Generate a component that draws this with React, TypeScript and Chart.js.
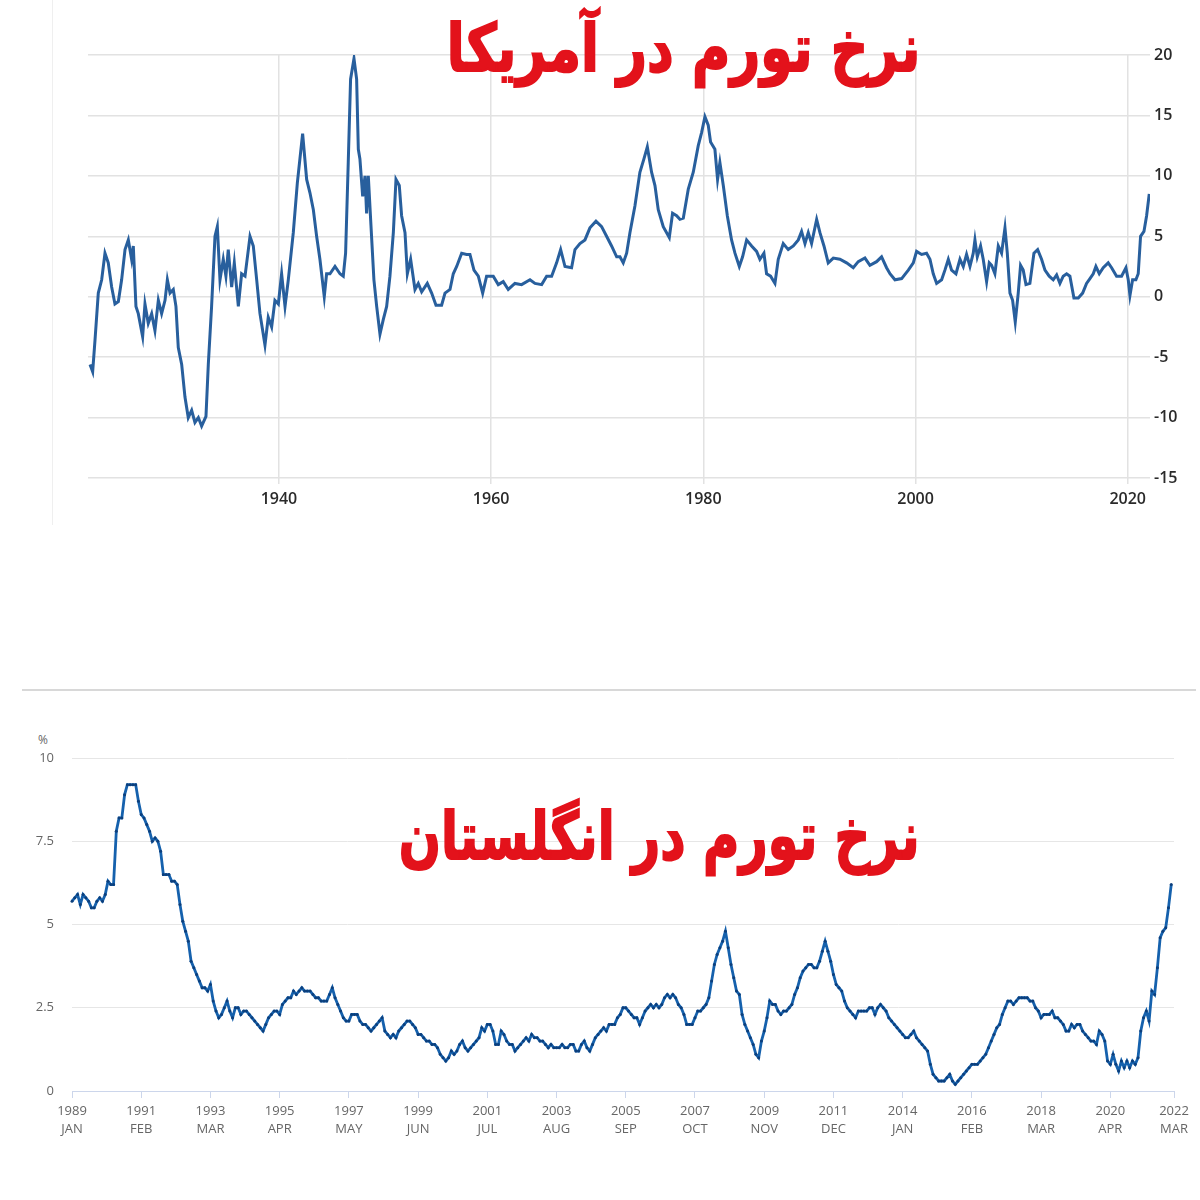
import React, { useEffect, useRef } from "react";
import { Chart, registerables } from "chart.js";

Chart.register(...registerables);

// ---------- US chart (annual inflation, %) ----------
const usYears = [
  1922.19, 1922.44, 1922.66, 1922.97, 1923.29, 1923.6, 1923.91, 1924.23, 1924.54, 1924.86,
  1925.17, 1925.49, 1925.8, 1926.11, 1926.27, 1926.52, 1926.74, 1927.15, 1927.37, 1927.68,
  1928.0, 1928.31, 1928.63, 1928.94, 1929.26, 1929.48, 1929.73, 1930.04, 1930.29, 1930.51,
  1930.83, 1931.14, 1931.45, 1931.77, 1932.08, 1932.4, 1932.71, 1933.12, 1933.34, 1933.65,
  1933.97, 1934.19, 1934.44, 1934.75, 1935.0, 1935.22, 1935.54, 1935.79, 1936.17, 1936.48,
  1936.8, 1937.27, 1937.58, 1937.9, 1938.21, 1938.68, 1938.99, 1939.31, 1939.62, 1939.94,
  1940.25, 1940.57, 1940.88, 1941.35, 1941.73, 1942.23, 1942.61, 1942.92, 1943.24, 1943.55,
  1943.86, 1944.27, 1944.49, 1944.81, 1945.28, 1945.75, 1946.06, 1946.28, 1946.53, 1946.75,
  1947.07, 1947.32, 1947.48, 1947.63, 1947.89, 1948.11, 1948.26, 1948.42, 1948.64, 1948.95,
  1949.21, 1949.52, 1949.83, 1950.15, 1950.46, 1950.78, 1951.03, 1951.34, 1951.56, 1951.88,
  1952.1, 1952.41, 1952.82, 1953.13, 1953.45, 1953.98, 1954.39, 1954.8, 1955.33, 1955.65,
  1956.12, 1956.43, 1956.75, 1957.22, 1957.69, 1958.0, 1958.38, 1958.79, 1959.2, 1959.57,
  1960.2, 1960.67, 1961.14, 1961.61, 1962.24, 1962.87, 1963.66, 1964.13, 1964.76, 1965.23,
  1965.7, 1966.17, 1966.55, 1966.96, 1967.58, 1967.9, 1968.37, 1968.84, 1969.31, 1969.88,
  1970.41, 1970.88, 1971.35, 1971.83, 1972.14, 1972.45, 1972.77, 1973.08, 1973.55, 1974.02,
  1974.4, 1974.72, 1975.12, 1975.44, 1975.75, 1976.22, 1976.79, 1977.1, 1977.48, 1977.79,
  1978.11, 1978.58, 1979.05, 1979.52, 1979.84, 1980.15, 1980.46, 1980.68, 1981.09, 1981.34,
  1981.56, 1981.88, 1982.26, 1982.66, 1982.98, 1983.39, 1983.7, 1984.08, 1984.55, 1985.02,
  1985.33, 1985.71, 1985.96, 1986.34, 1986.75, 1987.06, 1987.53, 1988.0, 1988.48, 1988.95,
  1989.26, 1989.58, 1989.89, 1990.2, 1990.68, 1990.99, 1991.37, 1991.77, 1992.25, 1992.87,
  1993.5, 1994.13, 1994.6, 1995.23, 1995.7, 1996.33, 1996.8, 1997.27, 1997.59, 1998.06,
  1998.69, 1999.32, 1999.79, 2000.1, 2000.57, 2001.04, 2001.36, 2001.67, 2001.99, 2002.46,
  2002.77, 2003.09, 2003.4, 2003.81, 2004.19, 2004.5, 2004.81, 2005.13, 2005.44, 2005.6,
  2005.82, 2006.13, 2006.38, 2006.7, 2006.95, 2007.17, 2007.48, 2007.8, 2008.11, 2008.43,
  2008.65, 2008.9, 2009.15, 2009.4, 2009.68, 2009.9, 2010.15, 2010.41, 2010.78, 2011.16,
  2011.51, 2011.88, 2012.2, 2012.6, 2012.98, 2013.3, 2013.61, 2013.92, 2014.24, 2014.55,
  2014.93, 2015.34, 2015.75, 2016.12, 2016.44, 2016.75, 2017.0, 2017.32, 2017.69, 2018.16,
  2018.48, 2018.95, 2019.42, 2019.83, 2020.05, 2020.21, 2020.46, 2020.77, 2020.99, 2021.21,
  2021.53, 2021.78, 2022.03,
];
const usValues = [
  -5.6, -6.2, -3.6, 0.3, 1.4, 3.6, 2.8, 0.8, -0.6, -0.4,
  1.4, 3.9, 4.7, 3.1, 4.2, -0.8, -1.4, -3.3, -0.6, -2.2,
  -1.4, -2.8, -0.3, -1.4, -0.3, 1.4, 0.3, 0.6, -0.8, -4.2,
  -5.6, -8.3, -10.0, -9.4, -10.4, -10.0, -10.7, -9.9, -5.6, -0.8,
  5.0, 5.8, 1.4, 3.1, 1.7, 3.9, 0.8, 2.8, -0.8, 1.9,
  1.7, 5.0, 4.2, 1.4, -1.4, -4.0, -1.7, -2.5, -0.3, -0.6,
  1.9, -0.8, 1.4, 5.3, 9.4, 13.5, 9.7, 8.6, 7.2, 5.0,
  3.1, 0.0, 1.9, 1.9, 2.5, 1.9, 1.7, 3.6, 11.1, 18.0,
  19.7, 18.0, 12.2, 11.4, 8.3, 10.0, 6.9, 10.0, 6.4, 1.4,
  -0.8, -3.1, -1.9, -0.8, 1.7, 5.3, 9.7, 9.2, 6.7, 5.3,
  1.9, 3.1, 0.6, 1.1, 0.4, 1.1, 0.3, -0.7, -0.7, 0.3,
  0.6, 1.9, 2.5, 3.6, 3.5, 3.5, 2.2, 1.7, 0.3, 1.7,
  1.7, 1.0, 1.25, 0.6, 1.1, 1.0, 1.4, 1.1, 1.0, 1.7,
  1.7, 2.8, 3.9, 2.5, 2.4, 3.9, 4.4, 4.7, 5.7, 6.25,
  5.8, 5.0, 4.2, 3.3, 3.3, 2.8, 3.6, 5.3, 7.5, 10.3,
  11.4, 12.4, 10.3, 9.2, 7.2, 5.8, 4.9, 6.9, 6.7, 6.4,
  6.5, 8.9, 10.3, 12.5, 13.6, 14.9, 14.2, 12.8, 12.2, 9.7,
  11.1, 9.2, 6.7, 4.7, 3.6, 2.5, 3.3, 4.7, 4.2, 3.75,
  3.1, 3.6, 1.9, 1.7, 1.1, 3.1, 4.4, 3.9, 4.2, 4.7,
  5.4, 4.4, 5.3, 4.4, 6.4, 5.3, 4.2, 2.8, 3.2, 3.1,
  2.8, 2.4, 2.9, 3.2, 2.6, 2.9, 3.3, 2.4, 1.9, 1.4,
  1.5, 2.2, 2.8, 3.75, 3.5, 3.6, 3.1, 1.9, 1.1, 1.4,
  2.2, 3.1, 2.2, 1.9, 3.1, 2.5, 3.5, 2.5, 3.6, 4.7,
  3.3, 4.2, 3.1, 1.25, 2.8, 2.6, 1.9, 4.2, 3.6, 5.7,
  3.6, 0.3, -0.3, -2.1, 0.3, 2.6, 2.2, 1.0, 1.1, 3.6,
  3.9, 3.1, 2.2, 1.7, 1.4, 1.8, 1.1, 1.7, 1.9, 1.7,
  -0.1, -0.1, 0.3, 1.1, 1.5, 1.9, 2.5, 1.9, 2.4, 2.8,
  2.4, 1.7, 1.7, 2.4, 1.4, 0.1, 1.4, 1.4, 1.9, 5.0,
  5.4, 6.7, 8.5,
];
const usXMin = 1922;
const usXMax = 2022.1;
const usXTicks = [1940, 1960, 1980, 2000, 2020];
const usYMin = -15;
const usYMax = 20;
const usYStep = 5;
const usTitle = "نرخ تورم در آمریکا";

// ---------- UK chart (CPI annual rate, %, monthly from Jan 1989) ----------
const ukStartYear = 1989;
const ukMonthNames = ["JAN", "FEB", "MAR", "APR", "MAY", "JUN", "JUL", "AUG", "SEP", "OCT", "NOV", "DEC"];
const ukLabelCount = 399; // Jan 1989 .. Mar 2022
const ukLabelEvery = 25;
const ukValues = [
  5.7, 5.8, 5.9, 5.6, 5.9, 5.8, 5.7, 5.5, 5.5, 5.7, 5.8, 5.7,
  5.9, 6.3, 6.2, 6.2, 7.8, 8.2, 8.2, 8.9, 9.2, 9.2, 9.2, 9.2,
  8.7, 8.3, 8.2, 8.0, 7.8, 7.5, 7.6, 7.5, 7.2, 6.5, 6.5, 6.5,
  6.3, 6.3, 6.2, 5.6, 5.1, 4.8, 4.5, 3.9, 3.7, 3.5, 3.3, 3.1,
  3.1, 3.0, 3.2, 2.7, 2.4, 2.2, 2.3, 2.5, 2.7, 2.4, 2.2, 2.5,
  2.5, 2.3, 2.4, 2.4, 2.3, 2.2, 2.1, 2.0, 1.9, 1.8, 2.0, 2.2,
  2.3, 2.4, 2.4, 2.3, 2.6, 2.7, 2.8, 2.8, 3.0, 2.9, 3.0, 3.1,
  3.0, 3.0, 3.0, 2.9, 2.8, 2.8, 2.7, 2.7, 2.7, 2.9, 3.1, 2.8,
  2.6, 2.4, 2.2, 2.1, 2.1, 2.3, 2.3, 2.3, 2.1, 2.0, 2.0, 1.9,
  1.8, 1.9, 2.0, 2.1, 2.2, 1.8, 1.7, 1.6, 1.7, 1.6, 1.8, 1.9,
  2.0, 2.1, 2.1, 2.0, 1.9, 1.7, 1.7, 1.6, 1.5, 1.5, 1.4, 1.4,
  1.3, 1.1, 1.0, 0.9, 1.0, 1.2, 1.1, 1.2, 1.4, 1.5, 1.3, 1.2,
  1.3, 1.4, 1.5, 1.6, 1.9, 1.8, 2.0, 2.0, 1.8, 1.4, 1.4, 1.8,
  1.7, 1.5, 1.4, 1.4, 1.2, 1.3, 1.4, 1.5, 1.6, 1.5, 1.7, 1.6,
  1.6, 1.5, 1.5, 1.4, 1.3, 1.4, 1.3, 1.3, 1.3, 1.4, 1.3, 1.3,
  1.4, 1.4, 1.2, 1.2, 1.4, 1.5, 1.3, 1.2, 1.4, 1.6, 1.7, 1.8,
  1.9, 1.8, 2.0, 2.0, 2.0, 2.2, 2.3, 2.5, 2.5, 2.4, 2.3, 2.2,
  2.2, 2.0, 2.2, 2.4, 2.5, 2.6, 2.5, 2.6, 2.5, 2.6, 2.8, 2.9,
  2.8, 2.9, 2.8, 2.6, 2.5, 2.3, 2.0, 2.0, 2.0, 2.2, 2.4, 2.4,
  2.5, 2.6, 2.8, 3.3, 3.8, 4.1, 4.3, 4.5, 4.8, 4.3, 3.8, 3.4,
  3.0, 2.9, 2.3, 2.0, 1.8, 1.6, 1.4, 1.1, 1.0, 1.5, 1.8, 2.2,
  2.7, 2.6, 2.6, 2.4, 2.3, 2.4, 2.4, 2.5, 2.6, 2.9, 3.1, 3.4,
  3.6, 3.7, 3.8, 3.8, 3.7, 3.7, 3.9, 4.2, 4.5, 4.2, 3.9, 3.5,
  3.2, 3.1, 3.0, 2.7, 2.5, 2.4, 2.3, 2.2, 2.4, 2.4, 2.4, 2.4,
  2.5, 2.5, 2.3, 2.5, 2.6, 2.5, 2.4, 2.2, 2.1, 2.0, 1.9, 1.8,
  1.7, 1.6, 1.6, 1.7, 1.8, 1.6, 1.5, 1.4, 1.3, 1.2, 0.8, 0.5,
  0.4, 0.3, 0.3, 0.3, 0.4, 0.5, 0.3, 0.2, 0.3, 0.4, 0.5, 0.6,
  0.7, 0.8, 0.8, 0.8, 0.9, 1.0, 1.1, 1.3, 1.5, 1.7, 1.9, 2.0,
  2.3, 2.5, 2.7, 2.7, 2.6, 2.7, 2.8, 2.8, 2.8, 2.8, 2.7, 2.7,
  2.5, 2.4, 2.2, 2.3, 2.3, 2.3, 2.4, 2.2, 2.2, 2.1, 2.0, 1.8,
  1.8, 2.0, 1.9, 2.0, 2.0, 1.8, 1.7, 1.6, 1.5, 1.5, 1.4, 1.8,
  1.7, 1.5, 0.9, 0.8, 1.1, 0.8, 0.6, 0.9, 0.7, 0.9, 0.7, 0.9,
  0.8, 1.0, 1.8, 2.2, 2.4, 2.1, 3.0, 2.9, 3.7, 4.6, 4.8, 4.9,
  5.5, 6.2,
];
const ukYMin = 0;
const ukYMax = 10;
const ukYStep = 2.5;
const ukUnit = "%";
const ukTitle = "نرخ تورم در انگلستان";

const ukLabels: string[][] = [];
for (let i = 0; i < ukLabelCount; i++) {
  ukLabels.push([String(ukStartYear + Math.floor(i / 12)), ukMonthNames[i % 12]]);
}

export default function App() {
  const topRef = useRef<HTMLCanvasElement>(null);
  const botRef = useRef<HTMLCanvasElement>(null);

  useEffect(() => {
    const topFont = { family: "'Open Sans', sans-serif", size: 16, weight: "600" as any };
    const top = new Chart(topRef.current as HTMLCanvasElement, {
      type: "line",
      data: {
        datasets: [
          {
            data: usYears.map((x, i) => ({ x, y: usValues[i] })),
            borderColor: "#285f9d",
            borderWidth: 3,
            pointRadius: 0,
            tension: 0,
            fill: false,
          },
        ],
      },
      options: {
        responsive: false,
        animation: false,
        layout: { padding: { left: 88, top: 55, right: 0, bottom: 0 } },
        plugins: { legend: { display: false }, tooltip: { enabled: false } },
        scales: {
          x: {
            type: "linear",
            min: usXMin,
            max: usXMax,
            afterBuildTicks: (s: any) => {
              s.ticks = usXTicks.map((v) => ({ value: v }));
            },
            afterFit: (s: any) => {
              s.height = 52;
            },
            ticks: {
              font: topFont,
              color: "#2a2a2a",
              padding: 6,
              maxRotation: 0,
              callback: (v: any) => String(v),
            },
            grid: { color: "#e2e2e2", lineWidth: 1.5, drawTicks: true, tickLength: 6 },
            border: { display: false },
          },
          y: {
            position: "right",
            min: usYMin,
            max: usYMax,
            afterFit: (s: any) => {
              s.width = 50;
            },
            ticks: { stepSize: usYStep, font: topFont, color: "#2a2a2a", padding: 4 },
            grid: { color: "#e2e2e2", lineWidth: 1.5, drawTicks: false },
            border: { display: false },
          },
        },
      },
    });

    const botFont = { family: "'Open Sans', sans-serif", size: 13, lineHeight: 1.4 };
    const bot = new Chart(botRef.current as HTMLCanvasElement, {
      type: "line",
      data: {
        labels: ukLabels,
        datasets: [
          {
            data: ukValues,
            borderColor: "#1561ad",
            borderWidth: 2.8,
            pointRadius: 1.5,
            pointBorderWidth: 0,
            pointBackgroundColor: "#0c3f7c",
            tension: 0,
            fill: false,
          },
        ],
      },
      options: {
        responsive: false,
        animation: false,
        layout: { padding: { left: 0, top: 58, right: 26, bottom: 0 } },
        plugins: { legend: { display: false }, tooltip: { enabled: false } },
        scales: {
          x: {
            type: "category",
            afterBuildTicks: (s: any) => {
              s.ticks = s.ticks.filter(
                (t: any) => t.value % ukLabelEvery === 0 || t.value === ukLabelCount - 1
              );
            },
            afterFit: (s: any) => {
              s.height = 59;
            },
            ticks: { autoSkip: false, maxRotation: 0, font: botFont, color: "#666666", padding: 4 },
            grid: { drawOnChartArea: false, drawTicks: true, tickLength: 7, color: "#ccd6eb" },
            border: { display: true, color: "#ccd6eb", width: 1 },
          },
          y: {
            min: ukYMin,
            max: ukYMax,
            afterFit: (s: any) => {
              s.width = 72;
            },
            ticks: { stepSize: ukYStep, font: { family: "'Open Sans', sans-serif", size: 13 }, color: "#666666", padding: 18 },
            grid: { color: "#e6e6e6", lineWidth: 1, drawTicks: false },
            border: { display: false },
          },
        },
      },
    });

    return () => {
      top.destroy();
      bot.destroy();
    };
  }, []);

  const titleStyle: React.CSSProperties = {
    position: "absolute",
    right: 280,
    whiteSpace: "nowrap",
    direction: "rtl",
    fontFamily: "'DejaVu Sans', sans-serif",
    fontWeight: "bold",
    fontSize: 66,
    lineHeight: "66px",
    color: "#e3121b",
    WebkitTextStroke: "2px #e3121b",
    transformOrigin: "right center",
  };

  return (
    <div style={{ position: "absolute", left: 0, top: 0, width: 1200, height: 1200, background: "#ffffff", overflow: "hidden" }}>
      <div style={{ position: "absolute", left: 52, top: 0, width: 1, height: 525, background: "#efefef" }} />
      <canvas ref={topRef} width={1200} height={530} style={{ position: "absolute", left: 0, top: 0, width: 1200, height: 530 }} />
      <div style={{ ...titleStyle, top: 16, transform: "scaleX(0.79)" }}>{usTitle}</div>
      <div style={{ position: "absolute", left: 22, top: 689, width: 1174, height: 2, background: "#d8d8d8" }} />
      <div
        style={{
          position: "absolute",
          left: 38,
          top: 731,
          fontFamily: "'Open Sans', sans-serif",
          fontSize: 12,
          color: "#666666",
        }}
      >
        {ukUnit}
      </div>
      <canvas ref={botRef} width={1200} height={450} style={{ position: "absolute", left: 0, top: 700, width: 1200, height: 450 }} />
      <div style={{ ...titleStyle, top: 804, transform: "scaleX(0.75)" }}>{ukTitle}</div>
    </div>
  );
}
